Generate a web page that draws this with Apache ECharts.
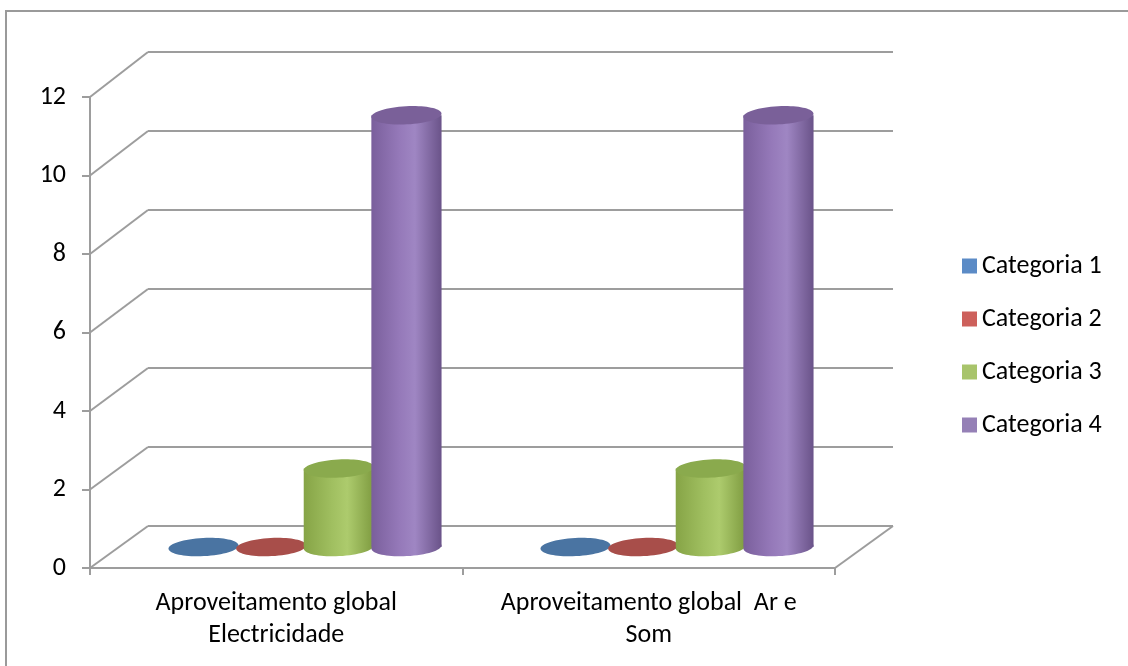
<!DOCTYPE html>
<html>
<head>
<meta charset="utf-8">
<script src="https://cdn.jsdelivr.net/npm/echarts@6/dist/echarts.min.js"></script>
<style>
html, body { margin: 0; padding: 0; background: #fff; }
#chart { width: 1128px; height: 666px; }
</style>
</head>
<body>
<div id="chart"></div>
<script>
// chart data
var categories = ['Aproveitamento global\nElectricidade', 'Aproveitamento global  Ar e\nSom'];
var seriesNames = ['Categoria 1', 'Categoria 2', 'Categoria 3', 'Categoria 4'];
var categoria1 = [0, 0];
var categoria2 = [0, 0];
var categoria3 = [2, 2];
var categoria4 = [11, 11];
var yTicks = [0, 2, 4, 6, 8, 10, 12];

var FONT = "Carlito, 'Noto Sans', sans-serif";
var FONT_SIZE = 26;
var GRID_COLOR = '#9d9d9d';

// legend colour, then body shades (edge, mid, light, edge) and top colour
var SHADES = [
    { legend: '#5b8bc6', flat: '#4a74a2' },
    { legend: '#cd605b', flat: '#a84e4a' },
    { legend: '#a8c46b', body: ['#86a446', '#a0bf60', '#adcb6d', '#7e9b40'], top: '#8aaa4d' },
    { legend: '#9580b6', body: ['#7a5f9c', '#9579b9', '#9f86c3', '#6a5389'], top: '#7a6099' }
];

var chart = echarts.init(document.getElementById('chart'));

function render_cylinder(params, api)
{
    var cat = api.value(0);
    var val = api.value(1);
    var band = api.size([1, 0])[0];
    var slot = band / 5.5;
    var rx = band / 10.6;
    var ry = rx * 0.26;
    var idx = params.seriesIndex;
    var base = api.coord([cat, 0]);
    var top = api.coord([cat, val]);
    var cx = base[0] + (idx - 1.5) * slot;
    var shade = SHADES[idx];
    var tilt = 0.05;

    if (!shade.body || val <= 0) {
        return {
            type: 'ellipse',
            shape: { cx: cx, cy: base[1], rx: rx, ry: ry },
            rotation: tilt, originX: cx, originY: base[1],
            style: { fill: shade.flat }
        };
    }
    var grad = new echarts.graphic.LinearGradient(0, 0, 1, 0, [
        { offset: 0, color: shade.body[0] },
        { offset: 0.4, color: shade.body[1] },
        { offset: 0.62, color: shade.body[2] },
        { offset: 1, color: shade.body[3] }
    ]);
    return {
        type: 'group',
        children: [
            {
                type: 'ellipse',
                shape: { cx: cx, cy: base[1], rx: rx, ry: ry },
                rotation: tilt, originX: cx, originY: base[1],
                style: { fill: grad }
            },
            {
                type: 'rect',
                shape: { x: cx - rx, y: top[1], width: rx * 2, height: base[1] - top[1] },
                style: { fill: grad }
            },
            {
                type: 'ellipse',
                shape: { cx: cx, cy: top[1], rx: rx, ry: ry },
                rotation: tilt, originX: cx, originY: top[1],
                style: { fill: shade.top }
            }
        ]
    };
}

function render_walls(params, api)
{
    var v = api.value(0);
    var cs = params.coordSys;
    var front = [cs.x, api.coord([0, v])[1]];
    var back = chart.convertToPixel({ gridIndex: 1 }, [0, v]);
    var lineStyle = { stroke: GRID_COLOR, lineWidth: 2 };
    var children = [{
        type: 'line',
        shape: { x1: front[0], y1: front[1], x2: back[0], y2: back[1] },
        style: lineStyle
    }];
    if (v === 0) {
        var backRight = chart.convertToPixel({ gridIndex: 1 }, [1, 0]);
        children.push({
            type: 'line',
            shape: { x1: cs.x + cs.width, y1: front[1], x2: backRight[0], y2: backRight[1] },
            style: lineStyle
        });
    }
    return { type: 'group', children: children };
}

var seriesData = [categoria1, categoria2, categoria3, categoria4];
var series = [];
for (var i = 0; i < seriesNames.length; i++) {
    series.push({
        name: seriesNames[i],
        type: 'custom',
        xAxisIndex: 2,
        yAxisIndex: 2,
        itemStyle: { color: SHADES[i].legend },
        renderItem: render_cylinder,
        data: seriesData[i].map(function (v, k) { return [k, v]; }),
        z: 5
    });
}
series.push({
    name: 'walls',
    type: 'custom',
    xAxisIndex: 0,
    yAxisIndex: 0,
    renderItem: render_walls,
    data: yTicks.map(function (v) { return [v]; }),
    encode: { y: 0 },
    silent: true,
    z: 1
});

var option = {
    animation: false,
    backgroundColor: '#fff',
    // chart-area frame: only its left and top edges fall inside the picture
    graphic: [{
        type: 'polyline',
        shape: { points: [[6, 700], [6, 11], [1200, 11]] },
        style: { fill: 'none', stroke: '#9a9a9a', lineWidth: 2 },
        silent: true
    }],
    legend: {
        orient: 'vertical',
        left: 957,
        top: 248,
        itemWidth: 15,
        itemHeight: 15,
        itemGap: 27,
        icon: 'rect',
        data: seriesNames,
        textStyle: { fontFamily: FONT, fontSize: FONT_SIZE, color: '#000', lineHeight: 26 }
    },
    grid: [
        // front plane (axes and labels)
        { left: 90, top: 97, width: 745, height: 471 },
        // back wall
        { left: 148, top: 52, width: 745, height: 474 },
        // middle plane, where the cylinders stand
        { left: 119, top: 76, width: 744, height: 471 }
    ],
    xAxis: [
        {
            gridIndex: 0,
            type: 'category',
            data: categories,
            boundaryGap: true,
            axisLine: { lineStyle: { color: GRID_COLOR, width: 2 } },
            axisTick: { show: true, length: 7, lineStyle: { color: GRID_COLOR, width: 2 } },
            axisLabel: {
                interval: 0,
                hideOverlap: false,
                fontFamily: FONT,
                fontSize: FONT_SIZE,
                color: '#000',
                lineHeight: 32,
                margin: 19
            },
            splitLine: { show: false }
        },
        { gridIndex: 1, type: 'value', min: 0, max: 1, show: false },
        { gridIndex: 2, type: 'category', data: categories, show: false }
    ],
    yAxis: [
        {
            gridIndex: 0,
            type: 'value',
            min: 0,
            max: 12,
            interval: 2,
            axisLine: { show: true, lineStyle: { color: GRID_COLOR, width: 2 } },
            axisTick: { show: true, length: 8, lineStyle: { color: GRID_COLOR, width: 2 } },
            axisLabel: { fontFamily: FONT, fontSize: FONT_SIZE, color: '#000', margin: 24 },
            splitLine: { show: false }
        },
        {
            gridIndex: 1,
            type: 'value',
            min: 0,
            max: 12,
            interval: 2,
            axisLine: { show: false },
            axisTick: { show: false },
            axisLabel: { show: false },
            splitLine: { show: true, lineStyle: { color: GRID_COLOR, width: 2 } }
        },
        { gridIndex: 2, type: 'value', min: 0, max: 12, show: false }
    ],
    series: series
};

chart.setOption(option);
</script>
</body>
</html>
